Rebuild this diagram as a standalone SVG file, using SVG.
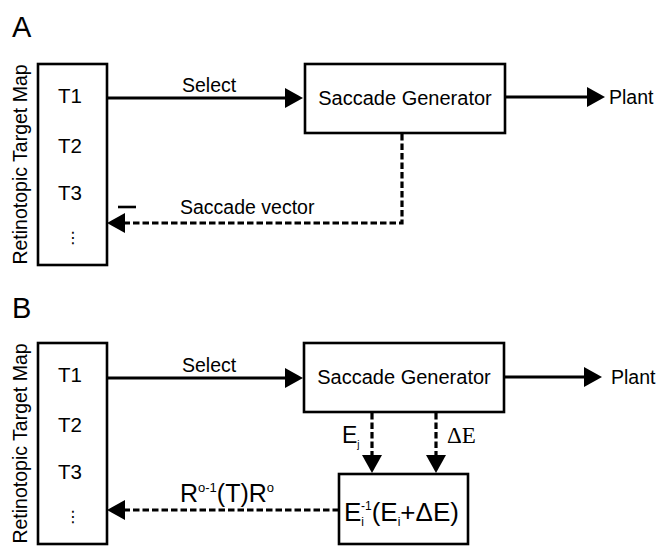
<svg xmlns="http://www.w3.org/2000/svg" width="659" height="546" viewBox="0 0 659 546">
<defs>
<style>
.t{font-family:"Liberation Sans",Arial,sans-serif;font-size:19.5px;fill:#000}
.tt{font-family:"Liberation Sans",Arial,sans-serif;font-size:20.5px;fill:#000}
.big{font-family:"Liberation Sans",Arial,sans-serif;font-size:29px;fill:#000}
.box{fill:#fff;stroke:#000;stroke-width:2.6}
.ln{fill:none;stroke:#000;stroke-width:3}
.dash{fill:none;stroke:#000;stroke-width:3.2;stroke-dasharray:6.5 3}
.serif{font-family:"Liberation Serif","Times New Roman",serif;font-size:23px;fill:#000}
.ell{font-family:"DejaVu Sans",sans-serif;font-size:16px;fill:#000}
</style>
<marker id="ah" markerUnits="userSpaceOnUse" markerWidth="19" markerHeight="21" refX="8" refY="10" orient="auto" viewBox="0 0 19 21">
<path d="M0,0 L18,10 L0,20 Z" fill="#000"/>
</marker>
</defs>
<rect width="659" height="546" fill="#fff"/>

<!-- Panel A -->
<text class="big" x="12" y="37">A</text>
<g id="connectorsA">
<line class="ln" x1="107" y1="98" x2="293" y2="98" marker-end="url(#ah)"/>
<line class="ln" x1="505" y1="97" x2="595" y2="97" marker-end="url(#ah)"/>
<path class="dash" d="M402,134 V223 H117" marker-end="url(#ah)"/>
<line x1="118" y1="207" x2="136" y2="207" stroke="#000" stroke-width="2.6"/>
<text class="t" x="182" y="92">Select</text>
<text class="t" x="180" y="214">Saccade vector</text>
<text class="t" x="609" y="104">Plant</text>
</g>
<g id="mapA">
<rect class="box" x="38" y="64" width="69" height="201"/>
<text class="t" transform="translate(27,164.5) rotate(-90)" text-anchor="middle">Retinotopic Target Map</text>
<text class="tt" x="58" y="103">T1</text>
<text class="tt" x="58" y="153">T2</text>
<text class="tt" x="58" y="200">T3</text>
<text class="ell" x="73" y="243" text-anchor="middle">⋮</text>
</g>
<g id="genA">
<rect class="box" x="305" y="64" width="200" height="69"/>
<text class="t" x="405" y="105" text-anchor="middle" style="font-size:20px">Saccade Generator</text>
</g>

<!-- Panel B -->
<text class="big" x="12" y="318">B</text>
<g id="connectorsB">
<line class="ln" x1="107" y1="378" x2="293" y2="378" marker-end="url(#ah)"/>
<line class="ln" x1="504" y1="377" x2="592" y2="377" marker-end="url(#ah)"/>
<line class="dash" x1="372" y1="413" x2="372" y2="463" marker-end="url(#ah)"/>
<line class="dash" x1="436" y1="413" x2="436" y2="463" marker-end="url(#ah)"/>
<line class="dash" x1="339" y1="510" x2="117" y2="510" marker-end="url(#ah)"/>
<text class="t" x="182" y="372">Select</text>
<text class="t" x="611" y="384">Plant</text>
<text class="t" x="342" y="443" style="font-size:23px">E<tspan dy="5" style="font-size:10px">j</tspan></text>
<text class="serif" x="447" y="443">ΔE</text>
<text class="t" x="180" y="502" style="font-size:25px">R<tspan dy="-10" style="font-size:13px">o-1</tspan><tspan dy="10">(T)R</tspan><tspan dy="-10" style="font-size:13px">o</tspan></text>
</g>
<g id="mapB">
<rect class="box" x="38" y="343" width="69" height="201"/>
<text class="t" transform="translate(27,443.5) rotate(-90)" text-anchor="middle">Retinotopic Target Map</text>
<text class="tt" x="58" y="382">T1</text>
<text class="tt" x="58" y="432">T2</text>
<text class="tt" x="58" y="479">T3</text>
<text class="ell" x="73" y="522" text-anchor="middle">⋮</text>
</g>
<g id="genB">
<rect class="box" x="304" y="343" width="200" height="69"/>
<text class="t" x="404" y="384" text-anchor="middle" style="font-size:20px">Saccade Generator</text>
</g>
<g id="transform">
<rect class="box" x="339" y="474" width="129" height="70"/>
<text class="t" x="344" y="521" style="font-size:26px">E<tspan dy="5" style="font-size:12px">i</tspan><tspan dx="-3" dy="-16" style="font-size:12px">-1</tspan><tspan dy="11">(E</tspan><tspan dy="5" style="font-size:12px">i</tspan><tspan dy="-5">+ΔE)</tspan></text>
</g>
</svg>
